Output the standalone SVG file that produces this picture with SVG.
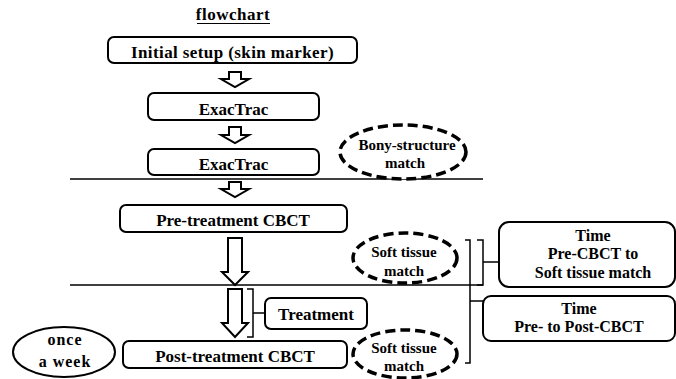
<svg xmlns="http://www.w3.org/2000/svg" width="676" height="379" viewBox="0 0 676 379">
<style>
.box{fill:#fff;stroke:#000;stroke-width:2}
.dash{fill:#fff;stroke:#000;stroke-width:3.5;stroke-dasharray:10 5}
.arrow{fill:#fff;stroke:#000;stroke-width:2;stroke-linejoin:miter}
.line{fill:none;stroke:#000;stroke-width:1.5}
</style>
<rect width="676" height="379" fill="#fff"/>
<g id="title">
<text font-family="Liberation Serif" font-weight="bold" font-size="17" text-anchor="middle" x="233" y="20" letter-spacing="0.5">flowchart</text>
<line x1="197" y1="23.5" x2="270" y2="23.5" stroke="#000" stroke-width="1.2"/>
</g>
<g id="connectors">
<line class="line" x1="70" y1="179" x2="483" y2="179"/>
<line class="line" x1="70" y1="285" x2="483" y2="285"/>
<polygon class="arrow" points="229,72 241,72 241,79 249,79 235,87 221,79 229,79"/>
<polygon class="arrow" points="229,127 241,127 241,135 249,135 235,143 221,135 229,135"/>
<polygon class="arrow" points="229,182 241,182 241,189 249,189 235,197 221,189 229,189"/>
<polygon class="arrow" points="228,238 242,238 242,272 248,272 235,285 222,272 228,272"/>
<polygon class="arrow" points="228,289 242,289 242,323 248,323 235,337 222,323 228,323"/>
<path class="line" d="M247,289 H253 V337 H247 M253,313 H265" stroke-width="2"/>
<path class="line" d="M477,240 H483 V285 H477 M483,262 H499" stroke-width="2"/>
<path class="line" d="M465,240 H470 V363 H465 M470,301 H483" stroke-width="2"/>
</g>
<g id="initial-setup">
<rect class="box" x="108" y="37" width="249" height="26" rx="6"/>
<text font-family="Liberation Serif" font-weight="bold" font-size="17" text-anchor="middle" x="232.5" y="58" letter-spacing="0.4">Initial setup (skin marker)</text>
</g>
<g id="exactrac1">
<rect class="box" x="148" y="93" width="171" height="27" rx="6"/>
<text font-family="Liberation Serif" font-weight="bold" font-size="17" text-anchor="middle" x="233.5" y="115">ExacTrac</text>
</g>
<g id="exactrac2">
<rect class="box" x="148" y="149" width="171" height="26" rx="6"/>
<text font-family="Liberation Serif" font-weight="bold" font-size="17" text-anchor="middle" x="233.5" y="170">ExacTrac</text>
</g>
<g id="bony-match">
<ellipse class="dash" cx="403" cy="152" rx="63" ry="27"/>
<text font-family="Liberation Serif" font-weight="bold" font-size="15" text-anchor="middle" x="407" y="150">Bony-structure</text>
<text font-family="Liberation Serif" font-weight="bold" font-size="15" text-anchor="middle" x="405" y="168">match</text>
</g>
<g id="pre-cbct">
<rect class="box" x="120" y="205" width="227" height="27" rx="6"/>
<text font-family="Liberation Serif" font-weight="bold" font-size="17" text-anchor="middle" x="233" y="226">Pre-treatment CBCT</text>
</g>
<g id="soft-match1">
<ellipse class="dash" cx="405" cy="258" rx="52" ry="25"/>
<text font-family="Liberation Serif" font-weight="bold" font-size="15" text-anchor="middle" x="404" y="257">Soft tissue</text>
<text font-family="Liberation Serif" font-weight="bold" font-size="15" text-anchor="middle" x="404" y="276">match</text>
</g>
<g id="treatment">
<rect class="box" x="265" y="298" width="102" height="31" rx="6"/>
<text font-family="Liberation Serif" font-weight="bold" font-size="17" text-anchor="middle" x="316" y="320">Treatment</text>
</g>
<g id="post-cbct">
<rect class="box" x="123" y="341" width="224" height="27" rx="6"/>
<text font-family="Liberation Serif" font-weight="bold" font-size="17" text-anchor="middle" x="235" y="362">Post-treatment CBCT</text>
</g>
<g id="once-a-week">
<ellipse cx="64" cy="352" rx="51" ry="25" fill="#fff" stroke="#000" stroke-width="2"/>
<text font-family="Liberation Serif" font-weight="bold" font-size="16" text-anchor="middle" x="65" y="345" letter-spacing="1">once</text>
<text font-family="Liberation Serif" font-weight="bold" font-size="16" text-anchor="middle" x="65" y="367" letter-spacing="1">a week</text>
</g>
<g id="soft-match2">
<ellipse class="dash" cx="405" cy="354" rx="52" ry="24"/>
<text font-family="Liberation Serif" font-weight="bold" font-size="15" text-anchor="middle" x="404" y="353">Soft tissue</text>
<text font-family="Liberation Serif" font-weight="bold" font-size="15" text-anchor="middle" x="404" y="371">match</text>
</g>
<g id="time1">
<rect class="box" x="499" y="222" width="176" height="65" rx="10"/>
<text font-family="Liberation Serif" font-weight="bold" font-size="16" text-anchor="middle" x="593" y="241">Time</text>
<text font-family="Liberation Serif" font-weight="bold" font-size="16" text-anchor="middle" x="593" y="259">Pre-CBCT to</text>
<text font-family="Liberation Serif" font-weight="bold" font-size="16" text-anchor="middle" x="593" y="278">Soft tissue match</text>
</g>
<g id="time2">
<rect class="box" x="483" y="296" width="192" height="45" rx="8"/>
<text font-family="Liberation Serif" font-weight="bold" font-size="16" text-anchor="middle" x="579" y="314">Time</text>
<text font-family="Liberation Serif" font-weight="bold" font-size="16" text-anchor="middle" x="579" y="332">Pre- to Post-CBCT</text>
</g>
</svg>
